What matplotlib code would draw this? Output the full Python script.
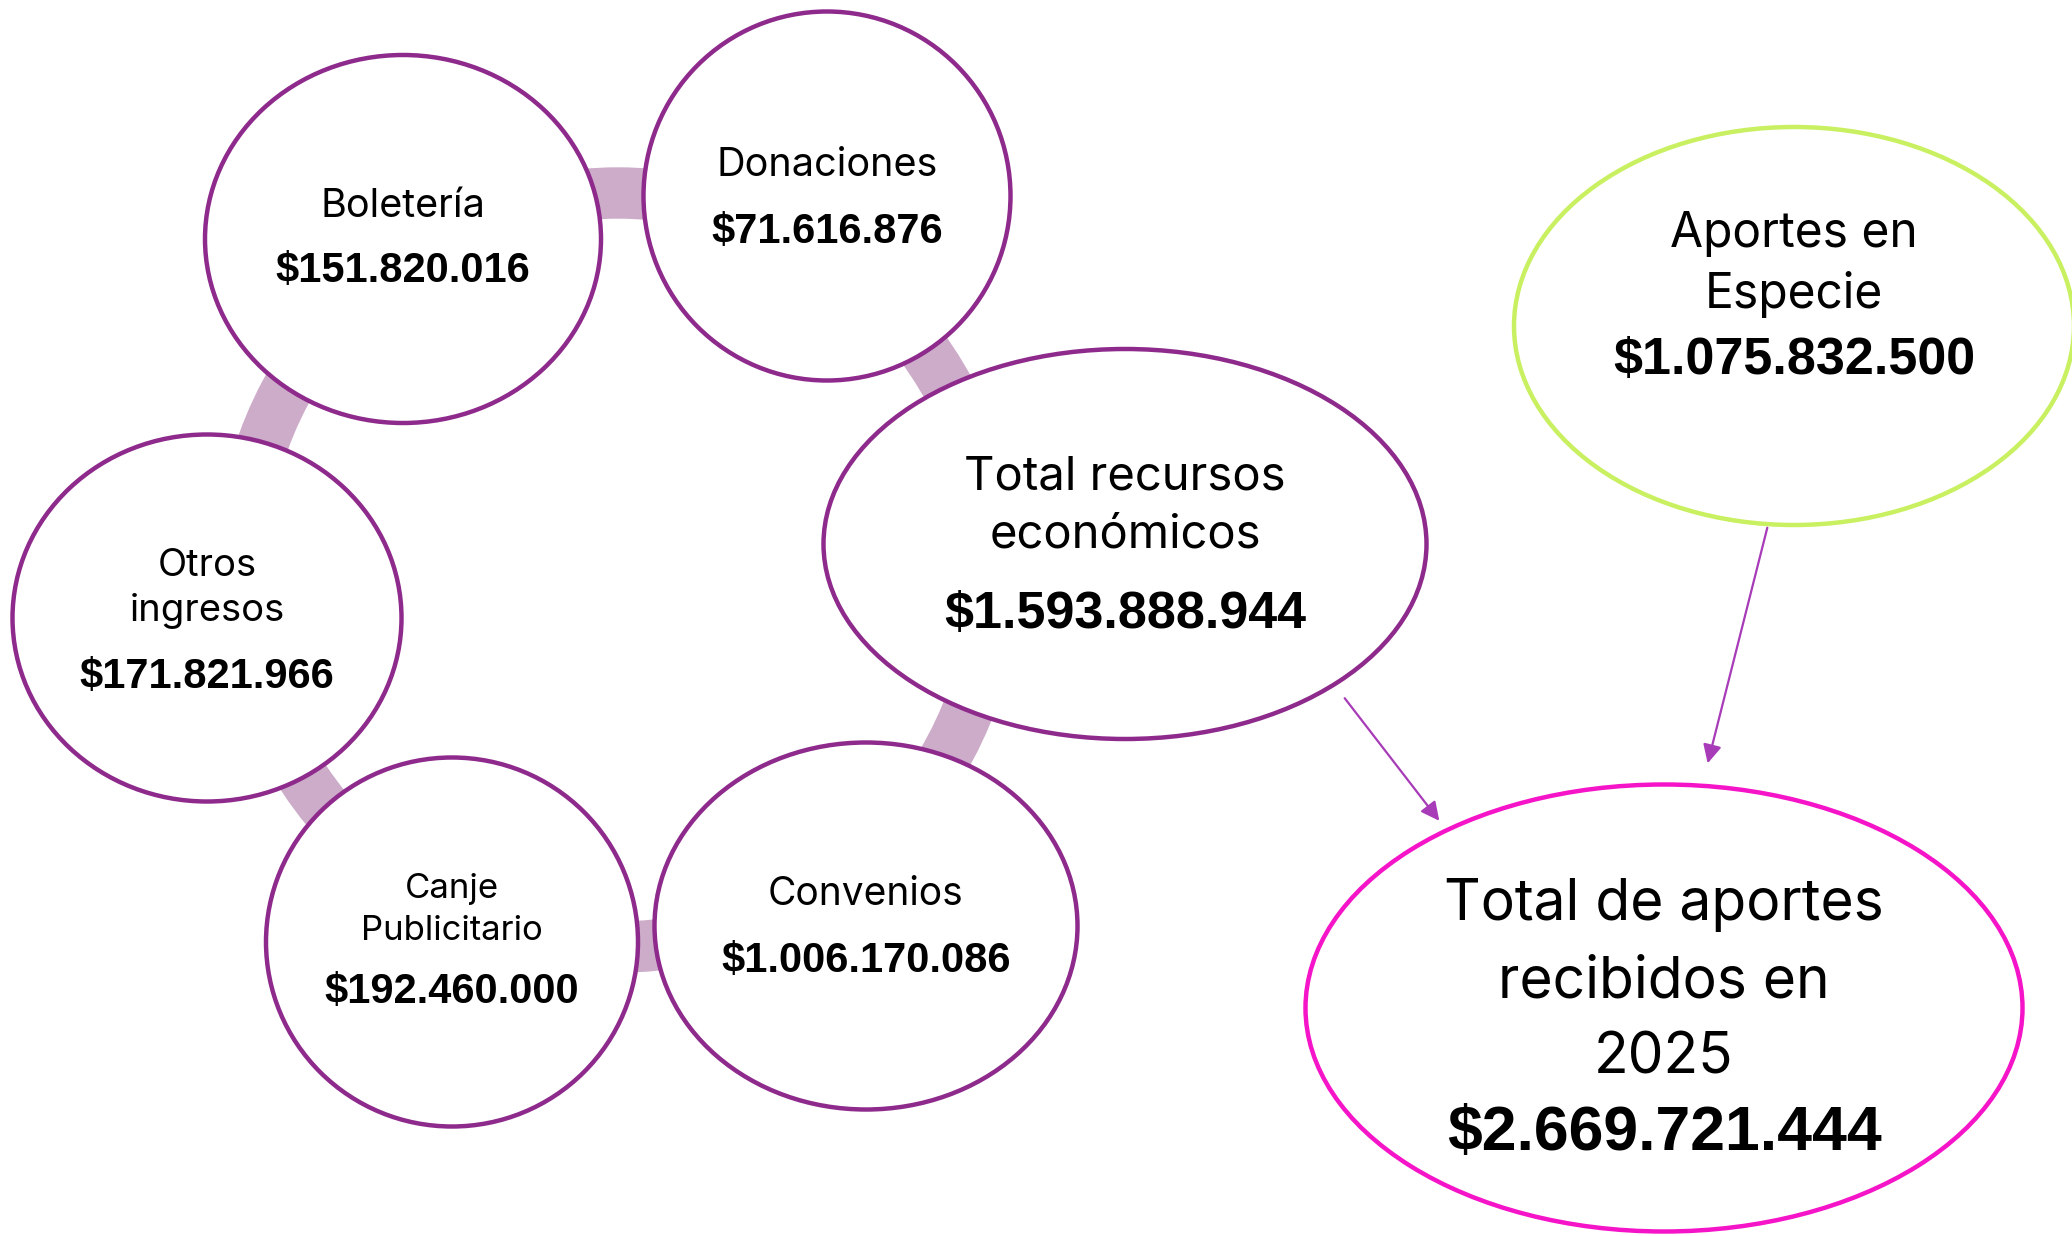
import matplotlib
matplotlib.use("Agg")
import matplotlib.pyplot as plt
from matplotlib.patches import Ellipse, Circle, FancyArrowPatch

# --- data -------------------------------------------------------------
cycle_labels = ["Boletería", "Donaciones", "Total recursos\neconómicos",
                "Convenios", "Canje\nPublicitario", "Otros\ningresos"]
cycle_values = ["$151.820.016", "$71.616.876", "$1.593.888.944",
                "$1.006.170.086", "$192.460.000", "$171.821.966"]

especie_label = "Aportes en\nEspecie"
especie_value = "$1.075.832.500"

total_label = "Total de aportes\nrecibidos en\n2025"
total_value = "$2.669.721.444"

# --- layout (pixels, figure is 2072 x 1236 at dpi 100) -----------------
# center x, center y, width, height
cycle_geom = [(403, 239, 396, 368), (827, 196, 367, 369), (1125, 544, 603, 390),
              (866, 926, 423, 367), (452, 942, 372, 369), (207, 618, 389, 367)]
# baselines of label lines, baseline of value
cycle_base = [([217], 282), ([176], 243), ([490, 548], 628),
              ([905], 972), ([898, 940], 1003), ([576, 621], 688)]
label_size = [28.5, 28.5, 34, 28, 25, 27.5]
value_size = [30, 30, 37.5, 30, 30, 30]

PURPLE = "#8E2A8C"
RING = "#CDACCA"
GREEN = "#C8F060"
PINK = "#F514C8"
ARROW = "#A83BB8"

REG = ["Inter", "DejaVu Sans"]
BOLD = ["Liberation Sans", "DejaVu Sans"]

fig = plt.figure(figsize=(20.72, 12.36), dpi=100)
ax = fig.add_axes([0, 0, 1, 1])
ax.set_xlim(0, 2072)
ax.set_ylim(1236, 0)
ax.axis("off")

# connecting ring behind the cycle
ax.add_patch(Circle((618, 570), 377, fill=False, lw=37, ec=RING, zorder=1))

def node(geom, lines, base, value, vbase, lsize, vsize, color):
    cx, cy, w, h = geom
    ax.add_patch(Ellipse((cx, cy), w, h, fc="white", ec=color, lw=3.2, zorder=2))
    for txt, b in zip(lines, base):
        ax.text(cx, b, txt, ha="center", va="baseline", fontsize=lsize,
                family=REG, color="black", zorder=3)
    ax.text(cx, vbase, value, ha="center", va="baseline", fontsize=vsize,
            family=BOLD, weight="bold", color="black", zorder=3)

for i in range(len(cycle_labels)):
    node(cycle_geom[i], cycle_labels[i].split("\n"), cycle_base[i][0],
         cycle_values[i], cycle_base[i][1], label_size[i], value_size[i], PURPLE)

node((1794, 326, 560, 398), especie_label.split("\n"), [247, 308],
     especie_value, 374, 34.5, 37.5, GREEN)

node((1664, 1008, 717, 447), total_label.split("\n"), [920, 997, 1073],
     total_value, 1150, 41, 45, PINK)

# arrows into the grand total
for start, end in [((1343, 696), (1441, 823)), ((1768, 525), (1707, 766))]:
    ax.add_patch(FancyArrowPatch(start, end, arrowstyle="-|>", mutation_scale=28,
                                 lw=1.6, color=ARROW, zorder=4))

fig.savefig("out.png", dpi=100)
